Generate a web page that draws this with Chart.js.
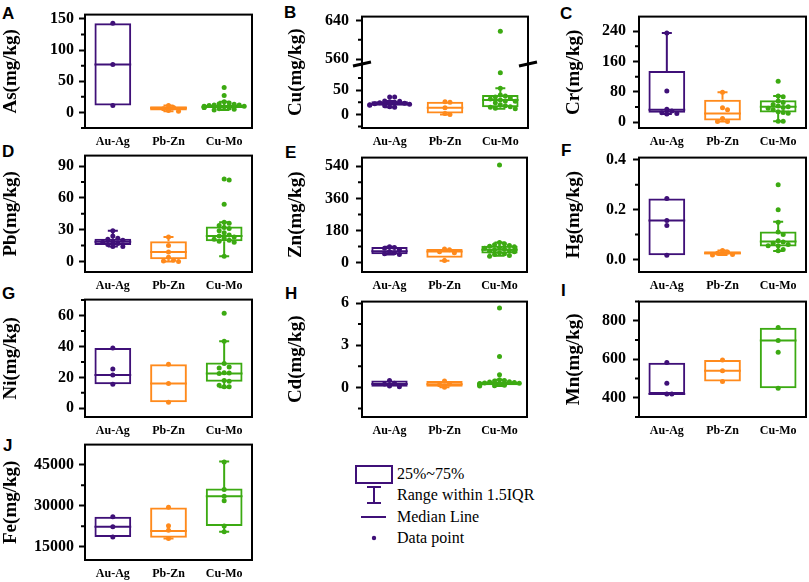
<!DOCTYPE html>
<html>
<head>
<meta charset="utf-8">
<script src="https://cdn.jsdelivr.net/npm/chart.js@4.4.1/dist/chart.umd.min.js"></script>
<style>
  body { margin: 0; background: #fff; width: 809px; height: 582px; overflow: hidden; position: relative; }
  canvas { position: absolute; }
  .tag { position: absolute; font-family: "Liberation Sans", Arial, sans-serif; font-weight: bold; font-size: 17px; line-height: 17px; color: #000; }
  .lg { position: absolute; left: 397px; font-family: "Liberation Serif", "Times New Roman", serif; font-size: 16px; line-height: 20px; white-space: nowrap; color: #000; }
  svg { position: absolute; }
</style>
</head>
<body>

<div class="tag" style="left:2px;top:5px">A</div>
<div class="tag" style="left:284px;top:4px">B</div>
<div class="tag" style="left:560px;top:5px">C</div>
<div class="tag" style="left:2px;top:143px">D</div>
<div class="tag" style="left:285px;top:144px">E</div>
<div class="tag" style="left:561px;top:142px">F</div>
<div class="tag" style="left:2px;top:285px">G</div>
<div class="tag" style="left:285px;top:285px">H</div>
<div class="tag" style="left:561px;top:282px">I</div>
<div class="tag" style="left:3px;top:437px">J</div>

<svg style="left:350px;top:460px" width="50" height="90">
  <rect x="6" y="6" width="36" height="17" fill="none" stroke="#3f1078" stroke-width="2"/>
  <line x1="24" y1="27" x2="24" y2="43" stroke="#3f1078" stroke-width="2"/>
  <line x1="17" y1="27" x2="31" y2="27" stroke="#3f1078" stroke-width="2"/>
  <line x1="17" y1="43" x2="31" y2="43" stroke="#3f1078" stroke-width="2"/>
  <line x1="11" y1="57" x2="36" y2="57" stroke="#3f1078" stroke-width="2"/>
  <circle cx="24" cy="78" r="2.2" fill="#3f1078"/>
</svg>
<div class="lg" style="top:464px">25%~75%</div>
<div class="lg" style="top:485px">Range within 1.5IQR</div>
<div class="lg" style="top:507px">Median Line</div>
<div class="lg" style="top:528px">Data point</div>

<script>
// groups on the x axis and their colours
const groups = ['Au-Ag', 'Pb-Zn', 'Cu-Mo'];
const colors = ['#3f1078', '#ff8a1c', '#3caa12'];

// box stats per group: [whisker low, Q1, median, Q3, whisker high]
const asStats = [[11, 11, 77, 143, 143], [2, 3, 7, 10, 11], [4, 7, 9, 12, 17]];
const asPoints = [[143, 77, 11], [11, 8, 6, 3, 2],
  [40, 27, 17, 15, 14, 13, 12, 12, 11, 10, 10, 9, 9, 8, 8, 7, 6, 5, 4]];
const asTicks = [0, 50, 100, 150];

const cuStats = [[15, 18, 22, 27, 28], [0, 2, 14, 26, 26], [12, 15, 30, 40, 54]];
const cuPoints = [[36, 36, 28, 27, 26, 25, 24, 23, 22, 21, 20, 19, 18, 16, 15],
  [26, 25, 14, 2, 0],
  [618, 86, 54, 40, 38, 36, 34, 32, 30, 28, 27, 24, 20, 18, 16, 15, 13, 12]];
const cuTicks = [0, 50, 560, 640];
const cuMinor = [-25, 25, 75, 600];
const cuBreak = [104, 550];

const crStats = [[22, 25, 33, 135, 235], [2, 5, 23, 59, 79], [3, 26, 41, 58, 69]];
const crPoints = [[235, 82, 34, 30, 25, 23, 22], [79, 38, 33, 10, 2, 2],
  [108, 69, 67, 56, 52, 47, 43, 41, 39, 37, 33, 28, 26, 24, 3, 3]];
const crTicks = [0, 80, 160, 240];

const pbStats = [[14, 15.5, 18.5, 21.5, 29], [0, 2, 9, 19, 23], [5, 19, 24, 33, 37]];
const pbPoints = [[29, 24, 22, 21, 20, 19, 18, 17, 16, 14, 14], [23, 15, 9, 4, 1, 0.5, 0],
  [78, 77, 54, 37, 36, 34, 32, 31, 29, 27, 25, 24, 23, 22, 21, 20, 19, 18, 5]];
const pbTicks = [0, 30, 60, 90];

const znStats = [[45, 47, 63, 87, 88], [10, 27, 62, 76, 76], [38, 51, 72, 94, 112]];
const znPoints = [[88, 85, 80, 72, 62, 55, 50, 45], [76, 72, 60, 55, 12],
  [548, 112, 105, 100, 96, 92, 88, 85, 80, 76, 72, 68, 64, 60, 55, 50, 45, 40, 35]];
const znTicks = [0, 180, 360, 540];

const hgStats = [[0.017, 0.017, 0.157, 0.245, 0.245], [0.018, 0.02, 0.025, 0.033, 0.036],
  [0.034, 0.052, 0.072, 0.112, 0.152]];
const hgPoints = [[0.245, 0.157, 0.137, 0.017], [0.036, 0.03, 0.025, 0.02, 0.018],
  [0.30, 0.20, 0.15, 0.11, 0.10, 0.075, 0.07, 0.065, 0.06, 0.055, 0.055, 0.04, 0.035]];
const hgTicks = [0, 0.2, 0.4];

const niStats = [[15.5, 15.5, 21.5, 39, 39], [4, 4, 16, 28.5, 28.5], [13.7, 17.2, 22.5, 29.6, 43.3]];
const niPoints = [[39, 25.5, 21.5, 15.5], [28.5, 16, 4],
  [61.5, 43.3, 29, 26.8, 26, 23, 22.8, 22.5, 18, 17.5, 15, 14, 14]];
const niTicks = [0, 20, 40, 60];

const cdStats = [[0.05, 0.05, 0.25, 0.5, 0.5], [0.02, 0.05, 0.22, 0.45, 0.45], [0.1, 0.15, 0.28, 0.42, 0.55]];
const cdPoints = [[0.5, 0.3, 0.25, 0.1, 0.05], [0.45, 0.25, 0.2, 0.02],
  [5.65, 2.2, 0.9, 0.55, 0.5, 0.45, 0.4, 0.38, 0.35, 0.32, 0.3, 0.28, 0.25, 0.22, 0.2, 0.18, 0.15, 0.12, 0.1]];
const cdTicks = [0, 3, 6];

const mnStats = [[420, 420, 420, 582, 582], [484, 484, 541, 596, 596], [450, 450, 698, 764, 764]];
const mnPoints = [[584, 476, 420, 420], [596, 541, 484], [765, 698, 637, 450]];
const mnTicks = [400, 600, 800];

const feStats = [[18600, 18600, 22300, 26000, 26000], [18000, 18300, 20800, 29400, 29400],
  [20500, 22600, 33500, 36300, 46200]];
const fePoints = [[26000, 22300, 18600], [29500, 22700, 21000, 18000],
  [46000, 36000, 33500, 31800, 22600, 20500]];
const feTicks = [15000, 30000, 45000];

// layout of the grid (chart area left edges / widths, row tops / heights)
const cols = [{left: 85, w: 168, titlePad: 0, tickPad: 5}, {left: 362, w: 166, titlePad: 8, tickPad: 7},
  {left: 639, w: 168, titlePad: 9, tickPad: 7}];
const rows = [{top: 14, h: 114}, {top: 155, h: 117}, {top: 299, h: 118}, {top: 444, h: 116}];

const panels = [
  {title: 'As(mg/kg)', stats: asStats, pts: asPoints, ticks: asTicks, min: -25, max: 157, col: 0, row: 0},
  {title: 'Cu(mg/kg)', stats: cuStats, pts: cuPoints, ticks: cuTicks, minor: cuMinor, brk: cuBreak, min: -28, max: 648, col: 1, row: 0},
  {title: 'Cr(mg/kg)', stats: crStats, pts: crPoints, ticks: crTicks, min: -15, max: 278, col: 2, row: 0},
  {title: 'Pb(mg/kg)', stats: pbStats, pts: pbPoints, ticks: pbTicks, min: -10, max: 100, col: 0, row: 1},
  {title: 'Zn(mg/kg)', stats: znStats, pts: znPoints, ticks: znTicks, min: -53, max: 589, col: 1, row: 1},
  {title: 'Hg(mg/kg)', stats: hgStats, pts: hgPoints, ticks: hgTicks, dec: 1, min: -0.05, max: 0.409, col: 2, row: 1},
  {title: 'Ni(mg/kg)', stats: niStats, pts: niPoints, ticks: niTicks, min: -5.6, max: 70.3, col: 0, row: 2},
  {title: 'Cd(mg/kg)', stats: cdStats, pts: cdPoints, ticks: cdTicks, min: -2.1, max: 6.1, col: 1, row: 2},
  {title: 'Mn(mg/kg)', stats: mnStats, pts: mnPoints, ticks: mnTicks, min: 300, max: 900, col: 2, row: 2},
  {title: 'Fe(mg/kg)', stats: feStats, pts: fePoints, ticks: feTicks, min: 10150, max: 52400, col: 0, row: 3}
];

// linear scale with a cut-out range (for the Cu panel)
const breaks = {};
class BrokenScale extends Chart.LinearScale {
  getPixelForValue(v) {
    const b = breaks[this.chart.canvas.id];
    if (b && v !== null && !isNaN(v)) {
      if (v >= b[1]) v -= b[1] - b[0];
      else if (v > b[0]) v = b[0];
    }
    return super.getPixelForValue(v);
  }
}
BrokenScale.id = 'broken';
BrokenScale.defaults = Chart.LinearScale.defaults;
Chart.register(BrokenScale);

// spread overlapping points sideways like Origin does
function swarm(vals, c, thr) {
  const out = [];
  vals.forEach(v => {
    let off = 0;
    for (let k = 0; k < 20; k++) {
      const o = k === 0 ? 0 : (k % 2 ? 1 : -1) * Math.ceil(k / 2) * 0.09;
      if (Math.abs(o) > 0.36) break;
      off = o;
      if (!out.some(q => Math.abs(q.y - v) < thr && Math.abs(q.x - c - o) < 0.08)) break;
    }
    out.push({x: c + off, y: v});
  });
  return out;
}

function whisker(s, c) {
  const [lo, q1, md, q3, hi] = s, cw = 0.09, hw = 0.33;
  const d = [];
  if (hi > q3) d.push({x: c, y: q3}, {x: c, y: hi}, {x: c, y: null}, {x: c - cw, y: hi}, {x: c + cw, y: hi}, {x: c, y: null});
  if (lo < q1) d.push({x: c, y: q1}, {x: c, y: lo}, {x: c, y: null}, {x: c - cw, y: lo}, {x: c + cw, y: lo}, {x: c, y: null});
  d.push({x: c - hw, y: md}, {x: c + hw, y: md});
  return d;
}

function minorTicks(p) {
  if (p.minor) return p.minor;
  const st = (p.ticks[1] - p.ticks[0]) / 2, out = [];
  let v = p.ticks[0] - st * Math.floor((p.ticks[0] - p.min) / st + 1e-9);
  for (; v <= p.max + 1e-9; v += st) {
    if (!p.ticks.some(t => Math.abs(t - v) < st * 1e-3)) out.push(v);
  }
  return out;
}

function deco(p) {
  return {
    id: 'deco',
    afterDraw(chart) {
      const {ctx, chartArea: a} = chart;
      const y = chart.scales.y;
      ctx.save();
      ctx.strokeStyle = '#000';
      ctx.lineWidth = 2;
      ctx.strokeRect(a.left, a.top, a.right - a.left, a.bottom - a.top);
      ctx.beginPath();
      minorTicks(p).forEach(v => {
        const py = y.getPixelForValue(v);
        ctx.moveTo(a.left - 4, py);
        ctx.lineTo(a.left, py);
      });
      ctx.stroke();
      if (p.brk) {
        const py = y.getPixelForValue(p.brk[0]);
        ctx.lineWidth = 3;
        [a.left, a.right].forEach(x0 => {
          ctx.beginPath();
          ctx.moveTo(x0 - 9, py + 2);
          ctx.lineTo(x0 + 9, py - 2);
          ctx.stroke();
        });
      }
      ctx.restore();
    }
  };
}

const serif = 'Liberation Serif';

panels.forEach((p, n) => {
  const c = cols[p.col], r = rows[p.row];
  const padR = p.brk ? 12 : 3;
  const W = 85 + c.w + padR, H = 14 + r.h + 22;
  const cv = document.createElement('canvas');
  cv.id = 'panel' + n;
  cv.width = W; cv.height = H;
  cv.style.left = (c.left - 85) + 'px';
  cv.style.top = (r.top - 14) + 'px';
  cv.style.width = W + 'px';
  cv.style.height = H + 'px';
  document.body.appendChild(cv);
  if (p.brk) breaks[cv.id] = p.brk;

  const yMax = p.brk ? p.max - (p.brk[1] - p.brk[0]) : p.max;
  const thr = (yMax - p.min) * 0.04;

  const datasets = [];
  p.pts.forEach((vals, i) => datasets.push({
    type: 'scatter', data: swarm(vals, i + 1, thr), backgroundColor: colors[i],
    borderWidth: 0, pointRadius: 2.5, order: 0
  }));
  p.stats.forEach((s, i) => datasets.push({
    type: 'line', data: whisker(s, i + 1), borderColor: colors[i], borderWidth: 2,
    pointRadius: 0, spanGaps: false, fill: false, tension: 0, order: 1
  }));
  datasets.push({
    type: 'bar', data: p.stats.map((s, i) => ({x: i + 1, y: [s[1], s[3]]})),
    borderColor: colors, backgroundColor: 'rgba(0,0,0,0)', borderWidth: 2,
    borderSkipped: false, barPercentage: 0.66, categoryPercentage: 1, order: 2
  });

  new Chart(cv, {
    type: 'bar',
    data: {datasets},
    options: {
      responsive: false,
      animation: false,
      events: [],
      layout: {padding: {top: 14, right: padR, left: 0, bottom: 0}},
      plugins: {legend: {display: false}, tooltip: {enabled: false}},
      scales: {
        x: {
          type: 'linear', min: 0.5, max: 3.5, offset: false,
          afterBuildTicks: s => { s.ticks = [1, 2, 3].map(v => ({value: v})); },
          afterFit: s => { s.height = 22; },
          ticks: {
            callback: v => groups[v - 1], autoSkip: false, maxRotation: 0, padding: 7,
            color: '#000', font: {family: serif, weight: 'bold', size: 12}
          },
          grid: {display: false, drawTicks: false},
          border: {display: false}
        },
        y: {
          type: p.brk ? 'broken' : 'linear', min: p.min, max: yMax,
          afterBuildTicks: s => { s.ticks = p.ticks.map(v => ({value: v})); },
          afterFit: s => { s.width = 85; },
          ticks: {
            callback: v => p.dec ? v.toFixed(p.dec) : String(v), autoSkip: false, padding: c.tickPad,
            color: '#000', font: {family: serif, weight: 'bold', size: 16}
          },
          grid: {display: true, drawOnChartArea: false, drawTicks: true, tickLength: 6, tickWidth: 2, tickColor: '#000'},
          border: {display: false},
          title: {
            display: true, text: p.title, color: '#000', padding: c.titlePad,
            font: {family: serif, weight: 'bold', size: 19}
          }
        }
      }
    },
    plugins: [deco(p)]
  });
});
</script>
</body>
</html>
